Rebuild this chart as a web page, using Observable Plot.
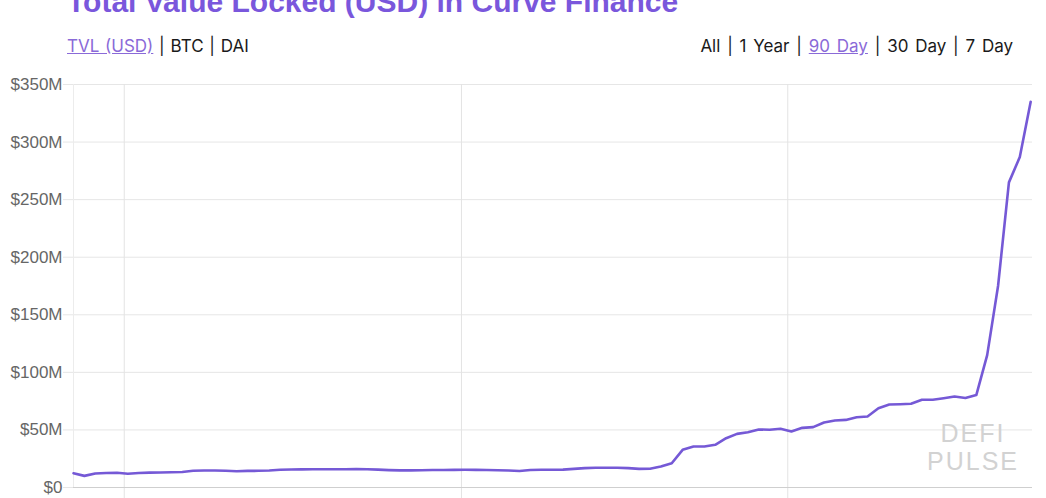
<!DOCTYPE html>
<html>
<head>
<meta charset="utf-8">
<script src="https://cdn.jsdelivr.net/npm/d3@7"></script>
<script src="https://cdn.jsdelivr.net/npm/@observablehq/plot@0.6"></script>
<style>
  html, body { margin: 0; padding: 0; background: #fff; }
  #wrap { position: relative; width: 1046px; height: 498px; overflow: hidden; background: #fff; }
  #title { position: absolute; left: 67px; top: -15px; font: bold 30px "Liberation Sans", Arial, sans-serif; line-height: 34px; color: #7a57dc; white-space: nowrap; }
  #left { position: absolute; left: 67px; top: 36px; font: 17px Inter, "Liberation Sans", sans-serif; line-height: 20px; word-spacing: 1px; color: #1a1a1a; white-space: nowrap; }
  #left a, #right a { color: #8a6ad8; text-decoration: underline; }
  #right { position: absolute; right: 33px; top: 36px; font: 17px Inter, "Liberation Sans", sans-serif; line-height: 20px; word-spacing: 2px; color: #1a1a1a; white-space: nowrap; }
  #chart { position: absolute; left: 0; top: 70px; }
  #wm { position: absolute; left: 925px; top: 419px; width: 96px; text-align: center; font: 25px "Liberation Sans", Arial, sans-serif; letter-spacing: 2px; line-height: 28px; color: #d2d2d2; }
</style>
</head>
<body>
<div id="wrap">
  <div id="title">Total Value Locked (USD) in Curve Finance</div>
  <div id="left"><a>TVL (USD)</a> | BTC | DAI</div>
  <div id="right">All | 1 Year | <a>90 Day</a> | 30 Day | 7 Day</div>
  <div id="chart"></div>
  <div id="wm">DEFI<br>PULSE</div>
</div>
<script>
// Daily series, first day 2020-04-26 (UTC 08:00), one value per day, in $ millions
const startDate = "2020-04-26T08:00:00Z";
const tvlMillions = [
  12.4, 10.1, 12.2, 12.6, 12.8, 12.0, 12.6, 12.9, 13.0, 13.2,
  13.4, 14.5, 14.8, 14.8, 14.6, 14.1, 14.4, 14.5, 14.8, 15.4,
  15.6, 15.7, 15.8, 15.8, 15.9, 15.9, 16.0, 15.9, 15.5, 15.1,
  14.9, 14.9, 15.0, 15.2, 15.2, 15.3, 15.4, 15.3, 15.2, 15.0,
  14.8, 14.3, 15.2, 15.4, 15.4, 15.5, 16.2, 16.8, 17.1, 17.1,
  17.1, 16.8, 16.2, 16.3, 18.2, 21.1, 32.7, 35.6, 35.6, 37.1,
  42.8, 46.6, 48.0, 50.4, 50.1, 51.0, 48.6, 51.8, 52.4, 56.5,
  58.2, 58.7, 61.0, 61.7, 68.8, 72.1, 72.3, 72.7, 76.2, 76.2,
  77.5, 79.0, 77.8, 80.3, 115, 175, 265, 287, 335
];
const xDomain = ["2020-04-26T08:00:00Z", "2020-07-23T12:00:00Z"];
const monthTicks = ["2020-05-01", "2020-06-01", "2020-07-01"];
const yTicks = [0, 50, 100, 150, 200, 250, 300, 350];

const start = new Date(startDate);
const data = tvlMillions.map((v, i) => ({date: d3.utcDay.offset(start, i), tvl: v * 1e6}));
const mTicks = monthTicks.map(d => new Date(d));

const chart = Plot.plot({
  width: 1046,
  height: 447,
  marginLeft: 73,
  marginRight: 14,
  marginTop: 14,
  marginBottom: 30,
  style: {fontFamily: "'Liberation Sans', Arial, sans-serif", fontSize: "17px", color: "#666", background: "transparent"},
  x: {type: "utc", domain: xDomain.map(d => new Date(d)), axis: null},
  y: {domain: [0, 350e6], axis: null},
  marks: [
    Plot.ruleY(yTicks.slice(1).map(d => d * 1e6), {stroke: "#e6e6e6", strokeWidth: 1}),
    Plot.ruleX(mTicks, {stroke: "#e3e3e3", strokeWidth: 1}),
    Plot.axisX({ticks: mTicks, tickSize: 20, tickFormat: () => "", stroke: "#e3e3e3", label: null}),
    Plot.axisY({ticks: yTicks.map(d => d * 1e6), tickSize: 10, tickPadding: 1, label: null,
      tickFormat: d => d === 0 ? "$0" : `$${d / 1e6}M`, stroke: "#e6e6e6", fill: "#666"}),
    Plot.ruleX([new Date(xDomain[0])], {stroke: "#ececec", strokeWidth: 1}),
    Plot.ruleY([0], {stroke: "#cfcfcf", strokeWidth: 1}),
    Plot.lineY(data, {x: "date", y: "tvl", stroke: "#7559d6", strokeWidth: 2.6, strokeLinejoin: "round"})
  ]
});
document.getElementById("chart").appendChild(chart);
</script>
</body>
</html>
